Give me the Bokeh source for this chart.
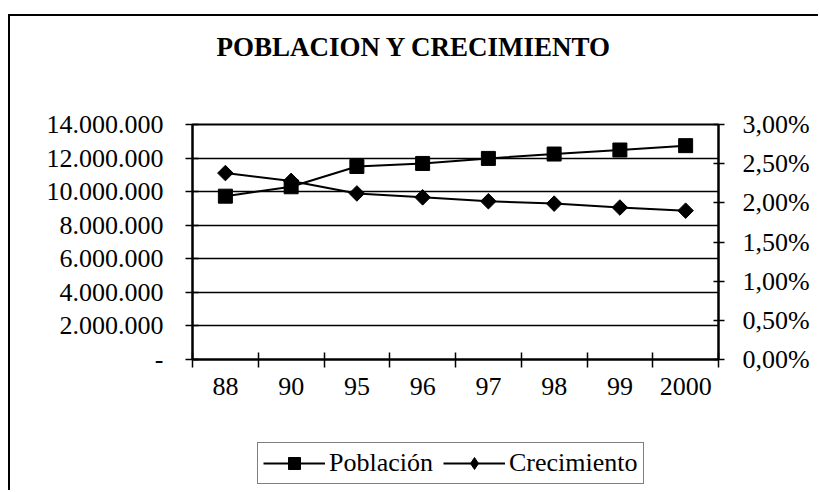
from math import pi
from bokeh.plotting import figure
from bokeh.models import (Range1d, LinearAxis, FixedTicker, Legend, LegendItem,
                          ColumnDataSource, Title, Column)
from bokeh.embed import file_html
from bokeh.resources import INLINE

# ---- data ----
years = ["88", "90", "95", "96", "97", "98", "99", "2000"]
poblacion = [9730000, 10290000, 11500000, 11680000, 11980000, 12240000, 12480000, 12740000]
crecimiento = [0.0238, 0.0228, 0.0212, 0.0207, 0.0202, 0.0199, 0.0194, 0.0190]

left_ticks = [0, 2000000, 4000000, 6000000, 8000000, 10000000, 12000000, 14000000]
left_labels = ["-", "2.000.000", "4.000.000", "6.000.000", "8.000.000",
               "10.000.000", "12.000.000", "14.000.000"]
right_ticks = [0.0, 0.005, 0.01, 0.015, 0.02, 0.025, 0.03]
right_labels = ["0,00%", "0,50%", "1,00%", "1,50%", "2,00%", "2,50%", "3,00%"]
series_names = ["Población", "Crecimiento"]

title_text = "POBLACION Y CRECIMIENTO"
FONT = "Liberation Serif"

n = len(years)
xpos = [i + 0.5 for i in range(n)]
src = ColumnDataSource(dict(x=xpos, pob=poblacion, cre=crecimiento))

# ---------------- main chart ----------------
p = figure(frame_width=524, frame_height=233, output_backend="svg", toolbar_location=None,
           x_range=Range1d(0, n), y_range=Range1d(0, 14000000),
           min_border_left=182, min_border_right=102, min_border_top=108,
           min_border_bottom=50)
p.margin = (14, 0, 0, 8)
p.styles = {"border-top": "2px solid black", "border-left": "2px solid black"}
p.extra_y_ranges = {"pct": Range1d(0, 0.03)}
p.background_fill_color = "white"
p.border_fill_color = "white"
p.outline_line_color = "black"
p.outline_line_width = 2

# real title (outer panel) + invisible spacer panel between it and the plot area
p.title = Title(text=title_text, text_font=FONT, text_font_size="27px",
                text_font_style="bold", align="left", offset=24,
                standoff=20, text_color="black")
spacer = Title(text=".", text_font=FONT, text_font_size="10px", standoff=44,
               text_color="white")
p.add_layout(spacer, "above")

# axes
p.xaxis.visible = False
p.yaxis.visible = False
p.xgrid.visible = False
p.ygrid.ticker = FixedTicker(ticks=left_ticks)
p.ygrid.grid_line_color = "black"
p.ygrid.grid_line_width = 1.5

xax = LinearAxis(ticker=FixedTicker(ticks=xpos, minor_ticks=list(range(n + 1))),
                 major_label_overrides={xv: lab for xv, lab in zip(xpos, years)})
xax.major_tick_in = 0
xax.major_tick_out = 0
xax.minor_tick_in = 7
xax.minor_tick_out = 8
xax.minor_tick_line_color = "black"
xax.minor_tick_line_width = 1.5
xax.axis_line_width = 2
xax.axis_line_color = "black"
xax.major_label_text_font = FONT
xax.major_label_text_font_size = "26px"
xax.major_label_text_color = "black"
xax.major_label_standoff = 10
p.add_layout(xax, "below")

lax = LinearAxis(ticker=FixedTicker(ticks=left_ticks),
                 major_label_overrides={t: l for t, l in zip(left_ticks, left_labels)})
lax.major_tick_in = 6
lax.major_tick_out = 7
lax.major_tick_line_width = 1.5
lax.minor_tick_line_color = None
lax.axis_line_width = 2
lax.major_label_text_font = FONT
lax.major_label_text_font_size = "26px"
lax.major_label_text_color = "black"
lax.major_label_standoff = 22
p.add_layout(lax, "left")

rax = LinearAxis(y_range_name="pct", ticker=FixedTicker(ticks=right_ticks),
                 major_label_overrides={t: l for t, l in zip(right_ticks, right_labels)})
rax.major_tick_in = 5
rax.major_tick_out = 6
rax.major_tick_line_width = 1.5
rax.minor_tick_line_color = None
rax.axis_line_width = 2
rax.major_label_text_font = FONT
rax.major_label_text_font_size = "26px"
rax.major_label_text_color = "black"
rax.major_label_standoff = 18
p.add_layout(rax, "right")

# series
p.line("x", "pob", source=src, line_color="black", line_width=2)
p.scatter("x", "pob", source=src, marker="square", size=14,
          fill_color="black", line_color="black")
p.line("x", "cre", source=src, y_range_name="pct", line_color="black", line_width=2)
p.scatter("x", "cre", source=src, y_range_name="pct", marker="square",
          angle=pi / 4, size=11, fill_color="black", line_color="black")

# ---------------- legend strip below the chart ----------------
lf = figure(width=808, height=83, output_backend="svg", toolbar_location=None,
            x_range=Range1d(0, 1), y_range=Range1d(0, 1),
            x_axis_type=None, y_axis_type=None, min_border=0)
lf.margin = (0, 0, 0, 8)
lf.styles = {"border-left": "2px solid black"}
lf.outline_line_color = None
lf.grid.visible = False
lf.background_fill_color = "white"
lf.border_fill_color = "white"

# legend swatches (placed outside the visible range; only the legend shows them)
kl1 = lf.line(x=[-5, -4], y=[-5, -5], line_color="black", line_width=2)
km1 = lf.scatter(x=[-5], y=[-5], marker="square", size=14,
                 fill_color="black", line_color="black")
kl2 = lf.line(x=[-5, -4], y=[-5, -5], line_color="black", line_width=2)
km2 = lf.scatter(x=[-5], y=[-5], marker="diamond", size=14,
                 fill_color="black", line_color="black")

legend = Legend(items=[LegendItem(label=series_names[0], renderers=[kl1, km1]),
                       LegendItem(label=series_names[1], renderers=[kl2, km2])],
                orientation="horizontal", location=(65, 6))
legend.label_text_font = FONT
legend.label_text_font_size = "26px"
legend.label_text_color = "black"
legend.border_line_color = "black"
legend.border_line_width = 1.5
legend.padding = 5
legend.spacing = 10
legend.margin = 0
legend.glyph_width = 62
legend.glyph_height = 30
legend.label_standoff = 4
legend.background_fill_alpha = 1
lf.add_layout(legend, "center")

layout = Column(children=[p, lf], spacing=0)

open("out.html", "w").write(file_html(layout, INLINE))
